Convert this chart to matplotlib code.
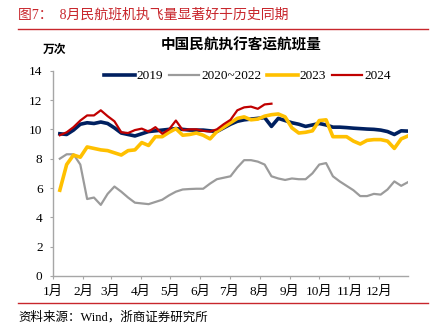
import matplotlib
matplotlib.use("Agg")
import matplotlib.pyplot as plt
from matplotlib.lines import Line2D

plt.rcParams['font.family'] = ['Liberation Serif', 'Noto Sans CJK SC', 'DejaVu Sans']

# Weekly flights (10k), week 1..52
weeks = list(range(1, 53))

y2019 = [9.7, 9.65, 9.95, 10.35, 10.45, 10.4, 10.5, 10.4, 10.1, 9.75,
         9.65, 9.55, 9.7, 9.85, 9.9, 9.95, 10.0, 10.05, 10.0, 9.95,
         9.95, 9.95, 9.9, 9.85, 10.1, 10.35, 10.55, 10.65, 10.7, 10.75,
         10.8, 10.2, 10.75, 10.6, 10.45, 10.35, 10.2, 10.3, 10.4, 10.3,
         10.15, 10.15, 10.12, 10.08, 10.05, 10.02, 10.0, 9.95, 9.85, 9.65,
         9.9, 9.88]

y2020_2022 = [8.0, 8.3, 8.3, 7.6, 5.25, 5.35, 4.85, 5.6, 6.1, 5.75,
              5.35, 5.0, 4.95, 4.9, 5.05, 5.2, 5.5, 5.75, 5.9, 5.93,
              5.95, 5.95, 6.3, 6.6, 6.7, 6.8, 7.4, 7.9, 7.9, 7.8,
              7.6, 6.8, 6.65, 6.55, 6.65, 6.6, 6.6, 7.0, 7.6, 7.7,
              6.8, 6.45, 6.15, 5.85, 5.45, 5.45, 5.6, 5.55, 5.9, 6.45,
              6.15, 6.4]

y2023 = [5.85, 7.6, 8.25, 8.1, 8.8, 8.7, 8.6, 8.55, 8.4, 8.25,
         8.55, 8.6, 9.1, 8.9, 9.5, 9.5, 9.8, 10.05, 9.6, 9.65,
         9.75, 9.6, 9.35, 9.85, 10.15, 10.45, 10.75, 10.85, 10.65, 10.7,
         10.9, 11.0, 11.05, 10.85, 10.1, 9.75, 9.8, 9.9, 10.6, 10.65,
         9.5, 9.5, 9.5, 9.2, 9.0, 9.25, 9.3, 9.3, 9.2, 8.7,
         9.35, 9.55]

y2024 = [9.6, 9.8, 10.15, 10.6, 10.95, 10.95, 11.3, 10.9, 10.55, 9.8,
         9.75, 9.95, 10.05, 9.85, 10.15, 9.7, 10.0, 10.6, 9.95, 10.0,
         10.0, 9.9, 9.85, 10.0, 10.35, 10.65, 11.3, 11.5, 11.55, 11.4,
         11.7, 11.75]

series_names = ['2019', '2020~2022', '2023', '2024']
month_labels = ['1月', '2月', '3月', '4月', '5月', '6月',
                '7月', '8月', '9月', '10月', '11月', '12月']
month_start_days = [0, 31, 59, 90, 120, 151, 181, 212, 243, 273, 304, 334]

c2019 = '#002060'
cgray = '#9B9B9B'
cyellow = '#FFC000'
cred = '#C00000'
title_red = '#C8262C'

fig = plt.figure(figsize=(4.34, 3.34), dpi=100)
ax = fig.add_axes([53 / 434, 1 - 276 / 334, 355 / 434, 205.3 / 334])

ax.plot(weeks, y2020_2022, color=cgray, lw=1.6, solid_joinstyle='round')
ax.plot(weeks, y2019, color=c2019, lw=2.6, solid_joinstyle='round')
ax.plot(weeks, y2023, color=cyellow, lw=2.6, solid_joinstyle='round')
ax.plot(weeks[:len(y2024)], y2024, color=cred, lw=1.6, solid_joinstyle='round')

ax.set_xlim(0, 52)
ax.set_ylim(0, 14)
ax.set_yticks([0, 2, 4, 6, 8, 10, 12, 14])
ax.set_xticks([d / 7 for d in month_start_days])
ax.set_xticklabels(month_labels)

for s in ['top', 'right']:
    ax.spines[s].set_visible(False)
for s in ['left', 'bottom']:
    ax.spines[s].set_color('#A6A6A6')
    ax.spines[s].set_linewidth(1.0)
ax.tick_params(axis='both', direction='out', length=2.5, color='#A6A6A6',
               labelsize=9.5, labelcolor='black')
ax.tick_params(axis='y', pad=5)
ax.tick_params(axis='x', pad=4.5)

handles = [Line2D([], [], color=c2019, lw=2.6),
           Line2D([], [], color=cgray, lw=1.6),
           Line2D([], [], color=cyellow, lw=2.6),
           Line2D([], [], color=cred, lw=1.6)]
leg = ax.legend(handles, series_names, ncol=4, frameon=False,
                loc='center', bbox_to_anchor=(0.548, 0.974),
                fontsize=9.5, handlelength=2.3, handletextpad=0.15,
                columnspacing=0.45, borderaxespad=0)

# header, chart title, unit and source
fig.text(18 / 434, 1 - 15 / 334, '图7：  8月民航班机执飞量显著好于历史同期',
         color=title_red, fontsize=10, va='center', ha='left')
fig.add_artist(Line2D([18 / 434, 428 / 434], [1 - 28.5 / 334, 1 - 28.5 / 334],
                      color=title_red, lw=1.0))
fig.text(241 / 434, 1 - 45 / 334, '中国民航执行客运航班量', fontsize=10.5,
         fontweight='bold', va='center', ha='center')
fig.text(55 / 434, 1 - 50 / 334, '万次', fontsize=8.5, fontweight='bold',
         va='center', ha='center')
fig.add_artist(Line2D([18 / 434, 428 / 434], [1 - 302.5 / 334, 1 - 302.5 / 334],
                      color=title_red, lw=1.0))
fig.text(18 / 434, 1 - 317 / 334, '资料来源：Wind，浙商证券研究所',
         fontsize=9, va='center', ha='left')

fig.savefig('out.png', dpi=100)
